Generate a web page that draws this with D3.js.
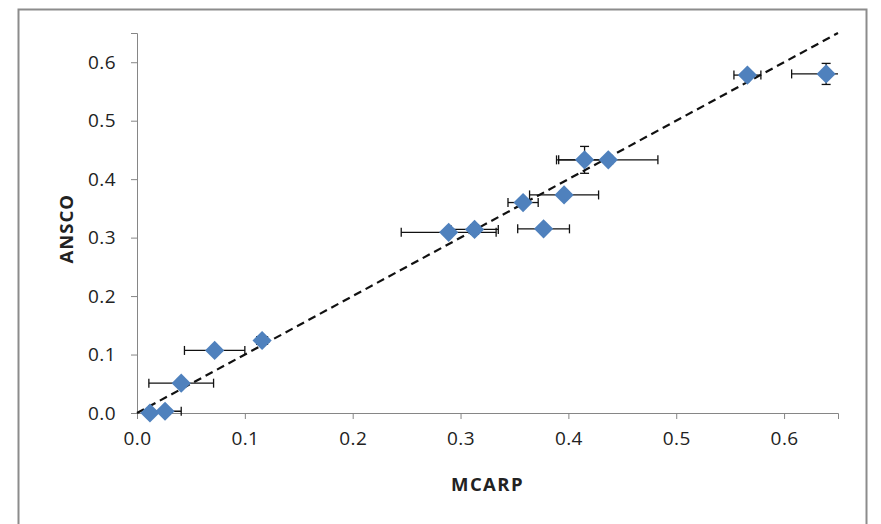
<!DOCTYPE html>
<html>
<head>
<meta charset="utf-8">
<script src="https://cdnjs.cloudflare.com/ajax/libs/d3/7.8.5/d3.min.js"></script>
<style>
  body { margin: 0; background: #fff; }
  text { font-family: "Open Sans", "Liberation Sans", Arial, sans-serif; }
</style>
</head>
<body>
<div id="chart"></div>
<script>
// data
var mcarp    = [0.012, 0.026, 0.041, 0.072, 0.116, 0.289, 0.313, 0.358, 0.377, 0.396, 0.415, 0.437, 0.566, 0.639];
var ansco    = [0.000, 0.003, 0.051, 0.107, 0.124, 0.309, 0.314, 0.360, 0.315, 0.373, 0.433, 0.433, 0.578, 0.580];
var mcarpErr = [0.000, 0.015, 0.030, 0.028, 0.005, 0.044, 0.022, 0.014, 0.024, 0.032, 0.026, 0.046, 0.0125, 0.032];
var anscoErr = [0.000, 0.000, 0.000, 0.000, 0.005, 0.000, 0.008, 0.000, 0.000, 0.005, 0.023, 0.000, 0.000, 0.018];
var tickValues = [0, 0.1, 0.2, 0.3, 0.4, 0.5, 0.6];

var data = mcarp.map(function(d, i) {
  return {x: d, y: ansco[i], ex: mcarpErr[i], ey: anscoErr[i]};
});

var W = 881, H = 524;
var margin = {top: 33, right: 43, bottom: 111, left: 137},
    width = W - margin.left - margin.right,
    height = H - margin.top - margin.bottom;

var root = d3.select("#chart").append("svg")
    .attr("width", W)
    .attr("height", H);

// chart frame
root.append("rect")
    .attr("x", 18.5).attr("y", 9.5)
    .attr("width", 848).attr("height", 540)
    .attr("fill", "none")
    .attr("stroke", "#8c8c8c")
    .attr("stroke-width", 2);

var svg = root.append("g")
    .attr("transform", "translate(" + margin.left + "," + margin.top + ")");

var x = d3.scaleLinear().domain([0, 0.65]).range([0, width]);
var y = d3.scaleLinear().domain([0, 0.65]).range([height, 0]);

var fmt = d3.format(".1f");

// x axis
var xa = svg.append("g")
    .attr("transform", "translate(0," + height + ")")
    .call(d3.axisBottom(x).tickValues(tickValues).tickFormat(fmt).tickSizeOuter(0).tickSize(6).tickPadding(13));
// y axis
var ya = svg.append("g")
    .call(d3.axisLeft(y).tickValues(tickValues).tickFormat(fmt).tickSizeOuter(0).tickSize(6).tickPadding(15));

[xa, ya].forEach(function(a) {
  a.select(".domain").attr("stroke", "#868686");
  a.selectAll(".tick line").attr("stroke", "#868686");
  a.selectAll(".tick text")
    .attr("fill", "#222")
    .style("font-family", "'Open Sans', sans-serif")
    .style("font-size", "19px")
    .style("letter-spacing", "0.4px");
});

// axis titles
svg.append("text")
    .attr("x", width / 2)
    .attr("y", height + 78)
    .attr("text-anchor", "middle")
    .style("font-weight", "bold")
    .style("font-size", "18.5px")
    .style("letter-spacing", "1.4px")
    .attr("fill", "#222")
    .text("MCARP");

svg.append("text")
    .attr("transform", "rotate(-90)")
    .attr("x", -(y(0.315)))
    .attr("y", -64)
    .attr("text-anchor", "middle")
    .style("font-weight", "bold")
    .style("font-size", "18.5px")
    .style("letter-spacing", "1px")
    .attr("fill", "#222")
    .text("ANSCO");

// 1:1 dashed line
svg.append("line")
    .attr("x1", x(0)).attr("y1", y(0))
    .attr("x2", x(0.65)).attr("y2", y(0.65))
    .attr("stroke", "#111")
    .attr("stroke-width", 2.2)
    .attr("stroke-dasharray", "8,5");

// error bars
svg.append("clipPath").attr("id", "plotclip")
  .append("rect").attr("x", 0).attr("y", -10).attr("width", width).attr("height", height + 20);

var eb = svg.append("g").attr("stroke", "#111").attr("stroke-width", 1.3).attr("clip-path", "url(#plotclip)");
var cap = 4.5;
data.forEach(function(d) {
  if (d.ex > 0) {
    eb.append("line").attr("x1", x(d.x - d.ex)).attr("x2", x(d.x + d.ex))
      .attr("y1", y(d.y)).attr("y2", y(d.y));
    [d.x - d.ex, d.x + d.ex].forEach(function(v) {
      eb.append("line").attr("x1", x(v)).attr("x2", x(v))
        .attr("y1", y(d.y) - cap).attr("y2", y(d.y) + cap);
    });
  }
  if (d.ey > 0) {
    eb.append("line").attr("x1", x(d.x)).attr("x2", x(d.x))
      .attr("y1", y(d.y - d.ey)).attr("y2", y(d.y + d.ey));
    [d.y - d.ey, d.y + d.ey].forEach(function(v) {
      eb.append("line").attr("x1", x(d.x) - cap).attr("x2", x(d.x) + cap)
        .attr("y1", y(v)).attr("y2", y(v));
    });
  }
});

// diamonds
svg.append("g")
  .selectAll("path")
  .data(data)
  .enter()
  .append("path")
    .attr("d", d3.symbol().type(d3.symbolDiamond2).size(235))
    .attr("transform", function(d) { return "translate(" + x(d.x) + "," + y(d.y) + ")"; })
    .style("fill", "#4F81BD");
</script>
</body>
</html>
